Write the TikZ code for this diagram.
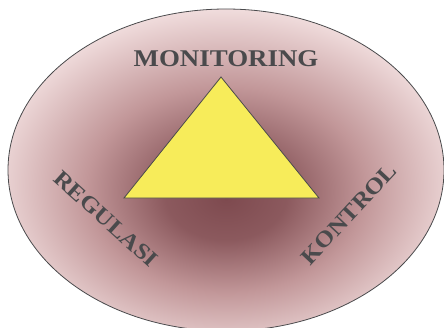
\documentclass[tikz,border=0pt]{standalone}
\usepackage{fontspec}
\setmainfont{Liberation Serif}
\newfontfamily\widefont[FakeStretch=1.12]{Liberation Serif}
\definecolor{dark}{HTML}{7E4A4F}
\definecolor{midc}{HTML}{C29799}
\definecolor{light}{HTML}{F4E2E2}
\definecolor{tri}{HTML}{F7EC5A}
\definecolor{txt}{HTML}{4A4A4C}
\pgfdeclareradialshading{ovalshade}{\pgfpoint{0bp}{-4.5bp}}{color(0bp)=(dark); color(7bp)=(dark!80!midc); color(16bp)=(midc); color(28bp)=(light); color(50bp)=(light)}
\tikzset{lbl/.style={text=txt, font=\widefont\bfseries\fontsize{24}{28}\selectfont, inner sep=0pt},
  slbl/.style={lbl, font=\widefont\bfseries\fontsize{22.5}{26}\selectfont}}
\begin{document}
\begin{tikzpicture}[x=1pt,y=1pt]
\useasboundingbox (0,0) rectangle (444,327);
\clip (0,0) rectangle (444,327);
\path[shading=ovalshade, draw=txt, line width=0.8pt] (226,157) ellipse [x radius=218, y radius=161];
\coordinate (apex) at (221,250);
\coordinate (bl) at (124,129);
\coordinate (br) at (319,129);
\draw[fill=tri, draw=txt, line width=0.8pt, line join=miter] (apex) -- (bl) -- (br) -- cycle;
\node[lbl] (mon) at (226,268) {MONITORING};
\node[slbl, rotate=-42] (reg) at (106,108) {REGULASI};
\node[slbl, rotate=47] (kon) at (349,113) {KONTROL};
\end{tikzpicture}
\end{document}
